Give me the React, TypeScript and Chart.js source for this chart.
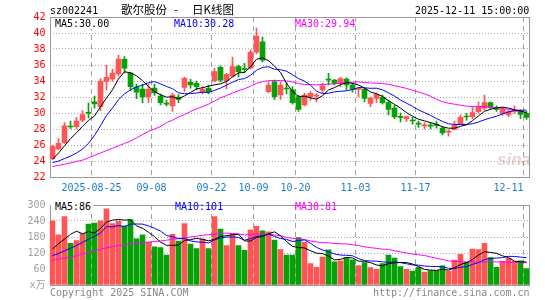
import React, { useEffect, useRef } from 'react';
import { Chart, registerables } from 'chart.js';

Chart.register(...registerables);

const dates: string[] = [
  '08-14', '08-15', '08-18', '08-19', '08-20', '08-21', '08-22', '08-25', '08-26', '08-27', '08-28', '08-29',
  '09-01', '09-02', '09-03', '09-04', '09-05', '09-08', '09-09', '09-10', '09-11', '09-12',
  '09-15', '09-16', '09-17', '09-18', '09-19', '09-22', '09-23', '09-24', '09-25', '09-26', '09-29', '09-30',
  '10-09', '10-10', '10-13', '10-14', '10-15', '10-16', '10-17', '10-20', '10-21', '10-22', '10-23', '10-24',
  '10-27', '10-28', '10-29', '10-30', '10-31',
  '11-03', '11-04', '11-05', '11-06', '11-07', '11-10', '11-11', '11-12', '11-13', '11-14',
  '11-17', '11-18', '11-19', '11-20', '11-21', '11-24', '11-25', '11-26', '11-27', '11-28',
  '12-01', '12-02', '12-03', '12-04', '12-05', '12-08', '12-09', '12-10', '12-11',
];

const axisDates = ['08-25', '09-08', '09-22', '10-09', '10-20', '11-03', '11-17', '12-11'];
const axisLabels = ['2025-08-25', '09-08', '09-22', '10-09', '10-20', '11-03', '11-17', '12-11'];

const opens = [
  24.3, 25.5, 26.3, 28.35, 28.3, 29.1, 30.05, 31.4, 30.8, 33.95,
  34.25, 34.9, 36.7, 35.0, 33.25, 33.0, 32.0, 33.1, 32.1, 31.15,
  30.9, 32.0, 33.2, 33.83, 33.7, 32.67, 33.08, 34.04, 35.7, 34.04,
  34.6, 35.8, 35.55, 35.6, 37.6, 38.9, 32.67, 33.9, 32.25, 33.1,
  32.9, 32.04, 31.0, 32.04, 32.1, 32.9, 34.2, 34.1, 33.7, 34.25,
  33.5, 32.95, 32.96, 31.2, 31.83, 31.96, 31.3, 30.6, 29.5, 29.3,
  29.1, 28.7, 28.4, 28.45, 28.55, 28.1, 27.6, 27.96, 28.6, 29.6,
  29.54, 30.17, 30.6, 31.3, 30.5, 29.96, 29.75, 30.2, 30.17, 29.96,
];
const highs = [
  26.0, 26.8, 28.8, 29.0, 29.45, 30.3, 31.25, 32.1, 34.3, 36.0,
  35.5, 37.2, 37.05, 35.1, 33.6, 33.6, 33.6, 33.6, 32.4, 31.6,
  32.5, 32.3, 34.5, 34.2, 34.0, 33.3, 33.5, 35.6, 35.9, 34.96,
  37.0, 36.0, 36.2, 37.9, 40.6, 39.5, 33.9, 34.1, 33.9, 33.8,
  33.3, 32.25, 32.5, 32.7, 32.46, 33.7, 34.96, 34.2, 34.45, 34.4,
  33.7, 33.1, 33.1, 32.0, 32.5, 32.25, 31.6, 31.0, 30.0, 29.6,
  29.46, 29.0, 28.8, 28.8, 29.0, 28.3, 27.9, 29.0, 29.75, 29.96,
  30.7, 31.4, 32.25, 31.4, 30.9, 30.7, 30.3, 30.9, 30.4, 30.2,
];
const lows = [
  24.2, 25.4, 26.2, 28.0, 28.0, 28.9, 29.4, 30.6, 30.3, 32.9,
  33.95, 34.6, 35.0, 32.8, 31.8, 31.3, 31.3, 32.2, 31.0, 30.9,
  30.2, 31.3, 32.7, 33.1, 32.9, 32.4, 32.4, 33.9, 33.9, 33.0,
  34.5, 34.5, 35.0, 35.5, 37.4, 36.4, 32.5, 31.7, 31.7, 32.4,
  31.1, 30.2, 30.9, 31.6, 31.4, 32.5, 33.5, 33.5, 33.3, 32.9,
  32.6, 32.0, 31.4, 30.8, 31.3, 31.1, 29.75, 29.3, 28.9, 28.95,
  28.6, 28.2, 28.0, 28.0, 28.1, 27.25, 27.1, 27.9, 28.5, 29.1,
  29.3, 30.0, 30.4, 30.5, 30.2, 29.7, 29.55, 29.96, 29.3, 29.2,
];
const closes = [
  25.8, 26.2, 28.4, 28.25, 29.0, 29.8, 29.95, 31.15, 34.0, 34.45,
  35.0, 36.75, 35.6, 33.3, 32.6, 32.0, 33.0, 32.5, 31.3, 31.1,
  32.25, 31.7, 34.33, 33.5, 33.3, 32.96, 32.67, 35.17, 34.1, 34.83,
  35.8, 35.17, 35.45, 37.6, 39.6, 36.6, 33.5, 32.04, 33.5, 33.0,
  31.3, 30.46, 32.25, 32.46, 32.2, 33.4, 34.1, 33.7, 34.3, 33.5,
  32.96, 33.05, 31.83, 31.83, 32.33, 31.3, 30.46, 29.5, 29.45, 29.55,
  29.0, 28.6, 28.5, 28.35, 28.45, 27.5, 27.7, 28.5, 29.46, 29.5,
  30.04, 30.75, 31.3, 30.7, 30.45, 30.46, 30.17, 30.3, 29.83, 29.46,
];
const volumes = [
  241, 188, 257, 156, 167, 193, 228, 232, 241, 286,
  230, 239, 221, 245, 173, 188, 160, 143, 140, 112,
  190, 165, 230, 153, 137, 172, 137, 257, 210, 148,
  190, 148, 130, 207, 220, 203, 199, 168, 133, 112,
  112, 178, 160, 80, 66, 105, 132, 87, 91, 103,
  94, 73, 84, 65, 59, 80, 112, 101, 69, 59,
  52, 66, 48, 53, 54, 72, 52, 93, 115, 85,
  135, 133, 156, 103, 66, 89, 100, 89, 91, 62,
];

// Moving-average values before enough history is on screen
const ma5Lead = [24.2, 25.0, 25.9, 26.8];
const ma10Lead = [23.8, 24.0, 24.3, 24.6, 25.0, 25.5, 26.2, 27.2, 28.4];
const ma30Lead = [
  23.3, 23.45, 23.6, 23.75, 23.95, 24.1, 24.4, 24.7, 25.0, 25.3,
  25.6, 25.9, 26.2, 26.5, 26.9, 27.3, 27.7, 28.0, 28.3, 28.8,
  29.1, 29.5, 29.8, 30.2, 30.5, 30.8, 31.1, 31.5, 31.9,
];
const vma5Lead = [135, 155, 172, 190];
const vma10Lead = [110, 118, 128, 138, 148, 160, 172, 182, 195];
const vma30Lead = [
  93, 97, 101, 105, 110, 116, 122, 128, 134, 139,
  144, 148, 151, 154, 157, 159, 161, 163, 165, 168,
  171, 174, 177, 180, 183, 186, 189, 191, 193,
];

const RED = '#FF5555';
const GREEN = '#06A106';
const MONO = '"DejaVu Sans Mono", monospace';

function movingAvg(vals: number[], n: number, lead: number[]): number[] {
  return vals.map((_, i) => {
    if (i < n - 1) return lead[i];
    let s = 0;
    for (let k = i - n + 1; k <= i; k++) s += vals[k];
    return s / n;
  });
}

const gridIdx = new Set(axisDates.map((d) => dates.indexOf(d)));
const upColor = (i: number) => (closes[i] >= opens[i] ? RED : GREEN);

const framePlugin = {
  id: 'frame',
  beforeDatasetsDraw(chart: any) {
    const { ctx, chartArea: a } = chart;
    ctx.save();
    ctx.strokeStyle = '#999';
    ctx.lineWidth = 1;
    const l = Math.round(a.left) + 0.5;
    const r = Math.round(a.right) - 0.5;
    const t = Math.round(a.top) + 0.5;
    const b = Math.round(a.bottom) + 0.5;
    ctx.strokeRect(l, t, r - l, b - t);
    ctx.restore();
  },
};

function xScale(showLabels: boolean, height: number) {
  return {
    type: 'category',
    offset: true,
    grid: {
      offset: true,
      drawTicks: false,
      lineWidth: 1,
      color: (c: any) => (gridIdx.has(c.index) ? '#a0a0a0' : 'rgba(0,0,0,0)'),
    },
    border: { display: false, dash: [5, 4] },
    ticks: {
      display: showLabels,
      autoSkip: false,
      maxRotation: 0,
      minRotation: 0,
      align: 'inner',
      labelOffset: -3,
      padding: 5,
      color: '#1A7BD0',
      font: { family: MONO, size: 10 },
      callback: (_v: any, i: number) => {
        const k = axisDates.indexOf(dates[i]);
        return k >= 0 ? axisLabels[k] : '';
      },
    },
    afterFit: (s: any) => {
      s.height = height;
    },
  };
}

function lineDs(label: string, data: number[], color: string) {
  return {
    type: 'line',
    label,
    data,
    borderColor: color,
    backgroundColor: color,
    borderWidth: 1,
    pointRadius: 0,
    tension: 0,
    order: 0,
  };
}

function Txt(props: { x: number; y: number; color: string; children: any; size?: number; family?: string; bg?: string; pl?: number; pr?: number; lh?: number; style?: any }) {
  return (
    <span
      style={{
        position: 'absolute',
        left: props.x,
        top: props.y,
        color: props.color,
        fontSize: props.size ?? 10,
        fontFamily: props.family ?? MONO,
        lineHeight: (props.lh ?? 11) + 'px',
        whiteSpace: 'pre',
        background: props.bg,
        paddingLeft: props.pl ?? 0,
        paddingRight: props.pr ?? 0,
        ...(props.style || {}),
      }}
    >
      {props.children}
    </span>
  );
}

export default function App() {
  const priceRef = useRef<HTMLCanvasElement | null>(null);
  const volRef = useRef<HTMLCanvasElement | null>(null);

  useEffect(() => {
    const ma5 = movingAvg(closes, 5, ma5Lead);
    const ma10 = movingAvg(closes, 10, ma10Lead);
    const ma30 = movingAvg(closes, 30, ma30Lead);
    const vma5 = movingAvg(volumes, 5, vma5Lead);
    const vma10 = movingAvg(volumes, 10, vma10Lead);
    const vma30 = movingAvg(volumes, 30, vma30Lead);

    const price = new Chart(priceRef.current as HTMLCanvasElement, {
      type: 'bar',
      data: {
        labels: dates,
        datasets: [
          lineDs('MA5', ma5, '#000000'),
          lineDs('MA10', ma10, '#0000FF'),
          lineDs('MA30', ma30, '#FF00FF'),
          {
            type: 'bar',
            label: 'body',
            data: opens.map((o, i) => [o, closes[i]]),
            backgroundColor: (c: any) => upColor(c.dataIndex),
            barThickness: 5,
            minBarLength: 1,
            grouped: false,
            order: 1,
          },
          {
            type: 'bar',
            label: 'wick',
            data: lows.map((l, i) => [l, highs[i]]),
            backgroundColor: (c: any) => upColor(c.dataIndex),
            barThickness: 1,
            grouped: false,
            order: 2,
          },
        ] as any,
      },
      options: {
        animation: false,
        responsive: false,
        devicePixelRatio: 1,
        events: [],
        layout: { padding: { top: 17, right: 15.5, left: 0, bottom: 0 } },
        plugins: { legend: { display: false }, tooltip: { enabled: false } },
        scales: {
          x: xScale(true, 18) as any,
          y: {
            min: 22,
            max: 42,
            ticks: { stepSize: 2, color: '#FF0000', padding: 4, font: { family: MONO, size: 10 } },
            grid: {
              drawTicks: false,
              color: (c: any) => (c.tick && (c.tick.value === 22 || c.tick.value === 42) ? 'rgba(0,0,0,0)' : '#aaa'),
            },
            border: { display: false, dash: [1, 2] },
            afterFit: (s: any) => {
              s.width = 49.5;
            },
          } as any,
        },
      },
      plugins: [framePlugin],
    });

    const vol = new Chart(volRef.current as HTMLCanvasElement, {
      type: 'bar',
      data: {
        labels: dates,
        datasets: [
          lineDs('MA5', vma5, '#000000'),
          lineDs('MA10', vma10, '#0000FF'),
          lineDs('MA30', vma30, '#FF00FF'),
          {
            type: 'bar',
            label: 'volume',
            data: volumes,
            backgroundColor: (c: any) => upColor(c.dataIndex),
            barThickness: 5,
            grouped: false,
            order: 1,
          },
        ] as any,
      },
      options: {
        animation: false,
        responsive: false,
        devicePixelRatio: 1,
        events: [],
        layout: { padding: { top: 6, right: 15.5, left: 0, bottom: 0 } },
        plugins: { legend: { display: false }, tooltip: { enabled: false } },
        scales: {
          x: xScale(false, 15) as any,
          y: {
            min: 0,
            max: 300,
            ticks: {
              stepSize: 60,
              color: '#a0a0a0',
              padding: 4,
              font: { family: MONO + ', "Noto Sans CJK SC"', size: 10 },
              callback: (v: any) => (v === 0 ? 'x万' : String(v)),
            },
            grid: {
              drawTicks: false,
              color: (c: any) => (c.tick && (c.tick.value === 0 || c.tick.value === 300) ? 'rgba(0,0,0,0)' : '#aaa'),
            },
            border: { display: false, dash: [1, 2] },
            afterFit: (s: any) => {
              s.width = 49.5;
            },
          } as any,
        },
      },
      plugins: [framePlugin],
    });

    return () => {
      price.destroy();
      vol.destroy();
    };
  }, []);

  const cjk = '"Noto Sans CJK SC", sans-serif';
  return (
    <div style={{ position: 'absolute', left: 0, top: 0, width: 545, height: 300, background: '#fff', overflow: 'hidden' }}>
      <canvas ref={priceRef} width={545} height={195} style={{ position: 'absolute', left: 0, top: 0, width: 545, height: 195 }} />
      <canvas ref={volRef} width={545} height={105} style={{ position: 'absolute', left: 0, top: 195, width: 545, height: 105 }} />

      <Txt x={50} y={5} color="#000">sz002241</Txt>
      <Txt x={121} y={2} color="#000" size={11.5} family={cjk} lh={14}>歌尔股份</Txt>
      <Txt x={174} y={2} color="#000" size={11.5} family={cjk} lh={14}>-</Txt>
      <Txt x={192} y={2} color="#000" size={11.5} family={cjk} lh={14}>日K线图</Txt>
      <Txt x={415} y={5} color="#000">2025-12-11 15:00:00</Txt>

      <Txt x={51} y={18} color="#000" bg="#fff" pl={4} pr={2}>MA5:30.00</Txt>
      <Txt x={174} y={18} color="#0000FF">MA10:30.28</Txt>
      <Txt x={295} y={18} color="#FF00FF">MA30:29.94</Txt>

      <Txt x={497} y={150} color="rgba(200,120,120,0.35)" size={17} family='"Liberation Sans", sans-serif' lh={20} style={{ fontStyle: 'italic', fontWeight: 'bold' }}>sina</Txt>

      <Txt x={51} y={201} color="#000" bg="#fff" pl={4} pr={2}>MA5:86</Txt>
      <Txt x={175} y={201} color="#0000FF">MA10:101</Txt>
      <Txt x={295} y={201} color="#FF00FF">MA30:81</Txt>

      <Txt x={50} y={287} color="#888">Copyright 2025 SINA.COM</Txt>
      <Txt x={373} y={287} color="#888">http://finance.sina.com.cn</Txt>
    </div>
  );
}
